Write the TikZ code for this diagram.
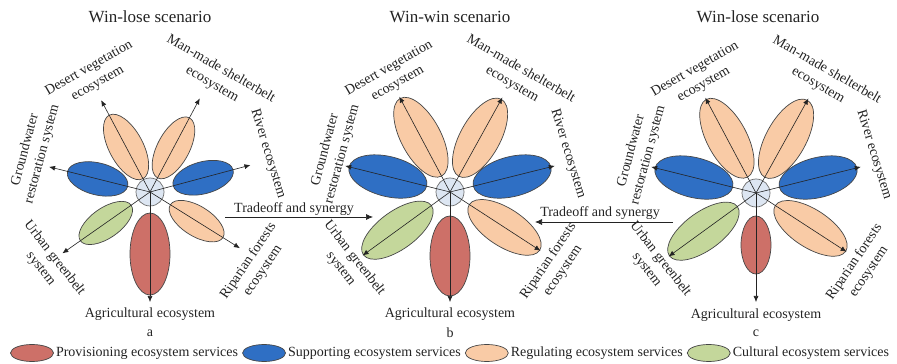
\documentclass[tikz,border=0pt]{standalone}
\usepackage{fontspec}
\setmainfont{Liberation Serif}
\usetikzlibrary{shapes.geometric,arrows.meta,calc}
\definecolor{prov}{RGB}{205,112,104}
\definecolor{supp}{RGB}{47,111,196}
\definecolor{reg}{RGB}{249,203,166}
\definecolor{cult}{RGB}{196,215,155}
\definecolor{hubfill}{RGB}{221,230,242}
\definecolor{hubedge}{RGB}{110,110,110}
\definecolor{edgecol}{RGB}{70,70,70}
\definecolor{spokecol}{RGB}{35,35,35}
\definecolor{txtcol}{RGB}{35,35,35}
\tikzset{
  petal/.style={ellipse, draw=edgecol, line width=0.7pt, inner sep=0pt},
  spoke/.style={draw=spokecol, line width=0.6pt, -{Latex[length=6pt,width=5pt]}},
  hub/.style={circle, draw=hubedge, fill=hubfill, line width=0.7pt, minimum size=28pt, inner sep=0pt},
  lbl/.style={font=\fontsize{14}{17.5}\selectfont, align=center, text=txtcol, inner sep=0pt},
  ttl/.style={font=\fontsize{17}{20}\selectfont, text=txtcol, inner sep=0pt},
  tradeline/.style={draw=spokecol, line width=0.7pt, -{Latex[length=7pt,width=6pt]}},
}
\newcommand\drawflower[3]{%
  \foreach \pang/\pd/\pa/\pb/\pc/\pl [count=\i] in {#3} {
    \node[petal, fill=\pc, minimum width={2pt*\pa}, minimum height={2pt*\pb}, rotate=\pang]
      (#1p\i) at ($(#2)+(\pang:\pd)$) {};
  }
  \node[hub] (#1hub) at (#2) {};
  \foreach \pang/\pd/\pa/\pb/\pc/\pl [count=\i] in {#3} {
    \coordinate (#1t\i) at ($(#2)+(\pang:\pl)$);
    \draw[spoke] (#1hub.center) -- (#1t\i);
  }
}
\newcommand\flowerlabels[2]{%
  \node[lbl, rotate=30] (#1desert) at ($(#2)+(116:129)$) {Desert vegetation\\ecosystem};
  \node[lbl, rotate=-30] (#1man) at ($(#2)+(60:133)$) {Man-made shelterbelt\\ecosystem};
  \node[lbl, rotate=-73] (#1river) at ($(#2)+(18:124)$) {River ecosystem};
  \node[lbl, rotate=75] (#1ground) at ($(#2)+(161:123)$) {Groundwater\\restoration system};
  \node[lbl, rotate=-52] (#1urban) at ($(#2)+(215:125)$) {Urban greenbelt\\system};
  \node[lbl, rotate=56] (#1rip) at ($(#2)+(-35:129)$) {Riparian forests\\ecosystem};
  \node[lbl] (#1agri) at ($(#2)+(0,-122)$) {Agricultural ecosystem};
}
\begin{document}
\begin{tikzpicture}[x=1pt,y=1pt]
\useasboundingbox (0,0) rectangle (897,364);
\coordinate (ca) at (150,172);
\coordinate (cb) at (450,172);
\coordinate (cc) at (756,171);

\node[ttl] (tita) at (150,347) {Win-lose scenario};
\node[ttl] (titb) at (450,347) {Win-win scenario};
\node[ttl] (titc) at (758,347) {Win-lose scenario};

\drawflower{a}{ca}{270/62/41/20/prov/110, 215/54/31/15/cult/107, 328/55/31/15/reg/106, 166/54/31/16/supp/104, 15/55/31/16/supp/104, 118/51/36/17/reg/104, 62/50/34/16/reg/106}
\drawflower{b}{cb}{270/64/40/20/prov/110, 216/65/42/19/cult/108, 327/65/42/19/reg/108, 166/64/40/20/supp/108, 14/64/40/20/supp/108, 118/62/44/20/reg/108, 61/62/44/20/reg/108}
\drawflower{c}{cc}{270/52/29/15/prov/109, 216/65/42/19/cult/108, 327/65/42/19/reg/108, 166/64/40/20/supp/108, 14/64/40/20/supp/108, 118/62/44/20/reg/108, 61/62/44/20/reg/108}

\flowerlabels{a}{ca}
\flowerlabels{b}{cb}
\flowerlabels{c}{cc}

\node[lbl] (leta) at (150,31) {a};
\node[lbl] (letb) at (450,31) {b};
\node[lbl] (letc) at (756,31) {c};

\coordinate (trA1) at (225,147);
\coordinate (trA2) at (373,147);
\draw[tradeline] (trA1) -- (trA2);
\node[lbl] (trAtxt) at (294,155) {Tradeoff and synergy};
\coordinate (trC1) at (673,142);
\coordinate (trC2) at (535,142);
\draw[tradeline] (trC1) -- (trC2);
\node[lbl] (trCtxt) at (600,151) {Tradeoff and synergy};

\node[petal, fill=prov, minimum width=43pt, minimum height=17pt] (lg1) at (32,11) {};
\node[lbl, anchor=west] (lt1) at ([xshift=2pt]lg1.east) {Provisioning ecosystem services};
\node[petal, fill=supp, minimum width=43pt, minimum height=17pt, anchor=west] (lg2) at ([xshift=4pt]lt1.east) {};
\node[lbl, anchor=west] (lt2) at ([xshift=2pt]lg2.east) {Supporting ecosystem services};
\node[petal, fill=reg, minimum width=43pt, minimum height=17pt, anchor=west] (lg3) at ([xshift=4pt]lt2.east) {};
\node[lbl, anchor=west] (lt3) at ([xshift=2pt]lg3.east) {Regulating ecosystem services};
\node[petal, fill=cult, minimum width=43pt, minimum height=17pt, anchor=west] (lg4) at ([xshift=4pt]lt3.east) {};
\node[lbl, anchor=west] (lt4) at ([xshift=2pt]lg4.east) {Cultural ecosystem services};
\end{tikzpicture}
\end{document}
